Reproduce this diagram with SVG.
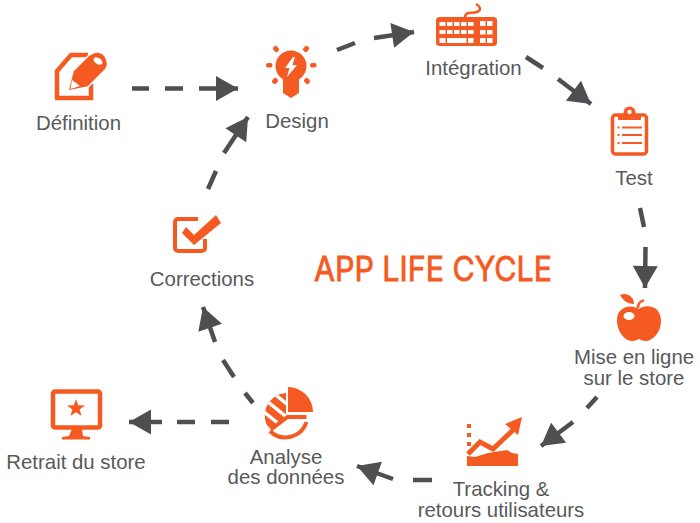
<svg xmlns="http://www.w3.org/2000/svg" width="700" height="523" viewBox="0 0 700 523">
<style>
.t{font-family:"Liberation Sans",Arial,sans-serif;font-size:20.4px;fill:#58595b;text-anchor:middle}
.o{fill:#f45a22}
.s{fill:none;stroke:#f45a22}
.w{fill:#fff}
.c line{stroke:#4f4f51;stroke-width:4.5;fill:none}
.k rect{fill:#fff}
</style>
<defs>
<marker id="ah" markerUnits="userSpaceOnUse" markerWidth="26" markerHeight="28" refX="23" refY="14" orient="auto">
<path d="M1 1.500 L23 14 L1 26.500 Z" fill="#4f4f51"/>
</marker>
<clipPath id="hc"><path d="M286 393 A22.5 22.5 0 0 0 271 431 L286 418 Z"/></clipPath>
</defs>
<rect width="700" height="523" fill="#fff"/>
<g id="connectors" class="c">
<line x1="132" y1="88.5" x2="149" y2="88.5"/><line x1="165" y1="88.5" x2="183" y2="88.5"/><line x1="199" y1="88.5" x2="238" y2="88.5" marker-end="url(#ah)"/>
<line x1="337" y1="50" x2="355" y2="43"/><line x1="374" y1="38" x2="414" y2="32" marker-end="url(#ah)"/>
<line x1="526" y1="57" x2="543" y2="68"/><line x1="558" y1="79" x2="591" y2="104" marker-end="url(#ah)"/>
<line x1="640" y1="208" x2="644" y2="227"/><line x1="645.5" y1="247" x2="645" y2="288" marker-end="url(#ah)"/>
<line x1="597" y1="397" x2="587" y2="408"/><line x1="573" y1="422" x2="541" y2="446" marker-end="url(#ah)"/>
<line x1="432" y1="480" x2="413" y2="480"/><line x1="393" y1="479" x2="357" y2="466" marker-end="url(#ah)"/>
<line x1="253" y1="403" x2="245" y2="393"/><line x1="234" y1="377" x2="223" y2="360"/><line x1="215" y1="342" x2="203" y2="307" marker-end="url(#ah)"/>
<line x1="208" y1="189" x2="216" y2="171"/><line x1="224" y1="153" x2="248" y2="117" marker-end="url(#ah)"/>
<line x1="229" y1="422" x2="211" y2="422"/><line x1="195" y1="422" x2="177" y2="422"/><line x1="162" y1="422" x2="129" y2="422" marker-end="url(#ah)"/>
</g>
<g id="definition">
<path class="s" stroke-width="4.500" d="M57 99 V71 L71 55 H88 M55 98 H91 V84"/>
<path class="o" stroke="#fff" stroke-width="1.500" d="M68 91 L73 71 L88 56 Q98 48 105 56 Q110 64 105 70 L88 87 Z"/>
<path class="w" d="M72 80 L80 86 L70.500 89 Z"/>
<ellipse class="w" cx="98" cy="61" rx="5" ry="3" transform="rotate(35 98 61)"/>
<text class="t" x="78.500" y="130">Définition</text>
</g>
<g id="design">
<circle class="o" cx="291" cy="66" r="15.500"/>
<path class="o" d="M283 78 H299 V93 L291 98 L283 93 Z"/>
<g class="o">
<rect x="273" y="46.500" width="6" height="5" rx="2" transform="rotate(45 276 49)"/>
<rect x="303" y="46.500" width="6" height="5" rx="2" transform="rotate(-45 306 49)"/>
<rect x="266" y="63" width="6.500" height="4.500" rx="2"/>
<rect x="310" y="63" width="6.500" height="4.500" rx="2"/>
<rect x="272" y="78.500" width="6" height="5" rx="2" transform="rotate(-45 275 81)"/>
<rect x="304" y="78.500" width="6" height="5" rx="2" transform="rotate(45 307 81)"/>
</g>
<path class="w" d="M293 57 L285 68 H289.500 L287 77 L297 65 H292.500 L295 57 Z"/>
<text class="t" x="297" y="128">Design</text>
</g>
<g id="integration">
<path class="s" stroke-width="2.500" d="M465 18 C465 10 472 14 477 12 C482 10 480 6 476 4"/>
<rect class="o" x="436" y="17" width="61" height="29" rx="3.500"/>
<g class="k">
<rect x="439.500" y="22" width="6" height="4"/><rect x="447" y="22" width="5.500" height="4"/><rect x="454" y="22" width="5.500" height="4"/><rect x="461" y="22" width="5.500" height="4"/><rect x="468" y="22" width="5.500" height="4"/><rect x="480" y="21" width="5.500" height="5"/><rect x="487" y="21" width="5.500" height="5"/>
<rect x="439.500" y="30" width="6" height="4"/><rect x="447" y="30" width="5.500" height="4"/><rect x="454" y="30" width="5.500" height="4"/><rect x="461" y="30" width="5.500" height="4"/><rect x="468" y="30" width="5.500" height="4"/><rect x="480" y="30" width="5.500" height="4.500"/><rect x="487" y="30" width="5.500" height="4.500"/>
<rect x="439.500" y="38" width="6" height="5"/><rect x="447" y="38" width="19.500" height="5"/><rect x="468" y="38" width="5.500" height="5"/><rect x="480" y="38" width="5.500" height="5"/><rect x="487" y="38" width="5.500" height="5"/>
</g>
<text class="t" x="473.500" y="75">Intégration</text>
</g>
<g id="test">
<rect class="s" stroke-width="3.500" x="612.500" y="115" width="34" height="39" rx="3"/>
<circle class="o" cx="629.500" cy="112.500" r="6"/>
<circle class="w" cx="629.500" cy="112" r="2.200"/>
<rect class="o" x="618" y="115" width="23" height="5" rx="1"/>
<path class="s" stroke-width="2" d="M622 127.500 H642 M622 135 H642 M622 143 H642 M617.500 127.500 H619.500 M617.500 135 H619.500 M617.500 143 H619.500"/>
<text class="t" x="634" y="185">Test</text>
</g>
<g id="mise-en-ligne">
<path class="o" d="M639 309 C645 304 661 305 661 321 C661 333 652 341 646 341 C643 341 641 340 639 339 C637 340 635 341 632 341 C625 341 617 332 617 320 C617 306 632 304 639 309 Z"/>
<ellipse class="w" cx="629" cy="316" rx="5.500" ry="4"/>
<path class="o" d="M620 295 C626 292 634 296 634 304 C627 304 623 300 620 295 Z"/>
<path class="s" stroke-width="2.500" d="M638 308 C638 303 640 301 644 300.500"/>
<text class="t" x="634" y="364">Mise en ligne</text>
<text class="t" x="634" y="385">sur le store</text>
</g>
<g id="tracking">
<path class="o" d="M467 466 V456 L475 457 L488 453 L507 450 L512 453 L518 454 V466 Z"/>
<path class="s" stroke-width="5" d="M468 454 L480 442 L493 449 L513 430"/>
<path class="o" d="M522 417 L505 424 L518 435 Z"/>
<rect class="o" x="467" y="424" width="4" height="4"/><rect class="o" x="467" y="433" width="4" height="4"/><rect class="o" x="467" y="442" width="4" height="4"/>
<text class="t" x="501" y="496">Tracking &amp;</text>
<text class="t" x="501" y="517">retours utilisateurs</text>
</g>
<g id="analyse">
<path class="o" d="M288 387 A25 25 0 0 1 313 412 H288 Z"/>
<g clip-path="url(#hc)">
<rect class="o" x="260" y="390" width="30" height="45"/>
<path d="M262 384 L292 408 M258 394 L288 418 M254 404 L284 428 M250 414 L280 438" stroke="#fff" stroke-width="3.500" fill="none"/>
</g>
<path class="s" stroke-width="4" d="M306.500 417 H287.500 L271 429.500 M306.500 422 A22 22 0 0 1 270 431"/>
<text class="t" x="286" y="464">Analyse</text>
<text class="t" x="286" y="484">des données</text>
</g>
<g id="retrait">
<rect class="s" stroke-width="4.500" x="53" y="391.500" width="47" height="36" rx="2"/>
<path class="o" d="M72 429 H82 L83 436 L90 437 V439.500 H62 V437 L69 436 Z"/>
<path class="o" d="M76 399 L78.200 405.300 L85 405.500 L79.600 409.600 L81.600 416 L76 412.200 L70.400 416 L72.400 409.600 L67 405.500 L73.800 405.300 Z"/>
<text class="t" x="76" y="469">Retrait du store</text>
</g>
<g id="corrections">
<path class="s" stroke-width="4" d="M198 219 H178 A3 3 0 0 0 175 222 V248 A3 3 0 0 0 178 251 H202 A3 3 0 0 0 205 248 V239"/>
<path class="o" d="M182 233 L186 227 L194 235 L216 215 L221 223 L194 245 Z"/>
<text class="t" x="202" y="286">Corrections</text>
</g>
<g id="title">
<text x="314" y="281" textLength="238" lengthAdjust="spacingAndGlyphs" stroke="#f45a22" stroke-width="0.800" style="font-family:'Inter','Liberation Sans',sans-serif;font-size:34px;font-weight:400;fill:#f45a22">APP LIFE CYCLE</text>
</g>
</svg>
